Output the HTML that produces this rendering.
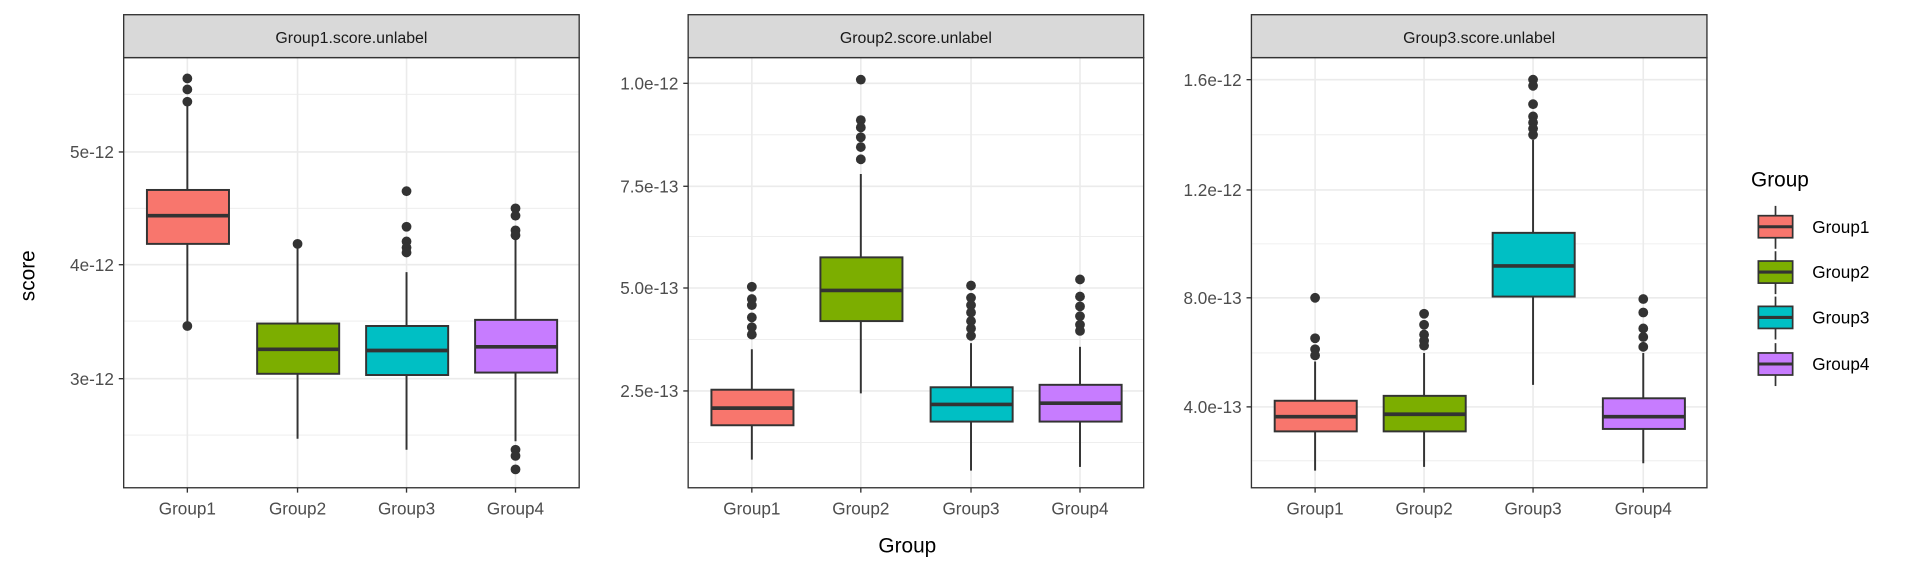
<!DOCTYPE html>
<html><head><meta charset="utf-8"><style>html,body{margin:0;padding:0;background:#fff}svg{display:block}</style></head>
<body>
<svg width="1920" height="576" viewBox="0 0 1568 470" preserveAspectRatio="none" xmlns="http://www.w3.org/2000/svg" font-family="Liberation Sans, sans-serif">
<rect width="1568" height="470" fill="#fff"/>
<g id="p1">
<g stroke="#EBEBEB" stroke-width="0.7"><line x1="101" x2="473" y1="77" y2="77"/><line x1="101" x2="473" y1="170" y2="170"/><line x1="101" x2="473" y1="262" y2="262"/><line x1="101" x2="473" y1="355" y2="355"/></g>
<g stroke="#EBEBEB" stroke-width="1.3"><line x1="101" x2="473" y1="124" y2="124"/><line x1="101" x2="473" y1="216" y2="216"/><line x1="101" x2="473" y1="309" y2="309"/>
<line x1="153" x2="153" y1="47" y2="398"/><line x1="243" x2="243" y1="47" y2="398"/><line x1="332" x2="332" y1="47" y2="398"/><line x1="421" x2="421" y1="47" y2="398"/></g>
</g>
<g stroke="#EBEBEB" stroke-width="0.7"><line x1="562" x2="934" y1="110" y2="110"/><line x1="562" x2="934" y1="193" y2="193"/><line x1="562" x2="934" y1="277" y2="277"/><line x1="562" x2="934" y1="361" y2="361"/>
<line x1="1022" x2="1394" y1="21" y2="21"/><line x1="1022" x2="1394" y1="110" y2="110"/><line x1="1022" x2="1394" y1="199" y2="199"/><line x1="1022" x2="1394" y1="288" y2="288"/><line x1="1022" x2="1394" y1="376" y2="376"/></g>
<g stroke="#EBEBEB" stroke-width="1.3"><line x1="562" x2="934" y1="68" y2="68"/><line x1="562" x2="934" y1="152" y2="152"/><line x1="562" x2="934" y1="235" y2="235"/><line x1="562" x2="934" y1="319" y2="319"/>
<line x1="614" x2="614" y1="47" y2="398"/><line x1="703" x2="703" y1="47" y2="398"/><line x1="793" x2="793" y1="47" y2="398"/><line x1="882" x2="882" y1="47" y2="398"/>
<line x1="1022" x2="1394" y1="65" y2="65"/><line x1="1022" x2="1394" y1="155" y2="155"/><line x1="1022" x2="1394" y1="243" y2="243"/><line x1="1022" x2="1394" y1="332" y2="332"/>
<line x1="1074" x2="1074" y1="47" y2="398"/><line x1="1163" x2="1163" y1="47" y2="398"/><line x1="1252" x2="1252" y1="47" y2="398"/><line x1="1342" x2="1342" y1="47" y2="398"/></g>

<g stroke="#333" stroke-width="1.6" fill="#333">
<!-- panel1 -->
<line x1="153" x2="153" y1="85" y2="266"/><rect x="120" y="155" width="67" height="44" fill="#F8766D"/><line x1="120" x2="187" y1="176" y2="176" stroke-width="3"/>
<circle cx="153" cy="64" r="4" stroke="none"/><circle cx="153" cy="73" r="4" stroke="none"/><circle cx="153" cy="83" r="4" stroke="none"/><circle cx="153" cy="266" r="4" stroke="none"/>
<line x1="243" x2="243" y1="202" y2="358"/><rect x="210" y="264" width="67" height="41" fill="#7CAE00"/><line x1="210" x2="277" y1="285" y2="285" stroke-width="3"/><circle cx="243" cy="199" r="4" stroke="none"/>
<line x1="332" x2="332" y1="222" y2="367"/><rect x="299" y="266" width="67" height="40" fill="#00BFC4"/><line x1="299" x2="366" y1="286" y2="286" stroke-width="3"/>
<circle cx="332" cy="156" r="4" stroke="none"/><circle cx="332" cy="185" r="4" stroke="none"/><circle cx="332" cy="197" r="4" stroke="none"/><circle cx="332" cy="202" r="4" stroke="none"/><circle cx="332" cy="206" r="4" stroke="none"/>
<line x1="421" x2="421" y1="192" y2="360"/><rect x="388" y="261" width="67" height="43" fill="#C77CFF"/><line x1="388" x2="455" y1="283" y2="283" stroke-width="3"/>
<circle cx="421" cy="170" r="4" stroke="none"/><circle cx="421" cy="176" r="4" stroke="none"/><circle cx="421" cy="188" r="4" stroke="none"/><circle cx="421" cy="192" r="4" stroke="none"/><circle cx="421" cy="367" r="4" stroke="none"/><circle cx="421" cy="372" r="4" stroke="none"/><circle cx="421" cy="383" r="4" stroke="none"/>
<!-- panel2 -->
<line x1="614" x2="614" y1="285" y2="375"/><rect x="581" y="318" width="67" height="29" fill="#F8766D"/><line x1="581" x2="648" y1="333" y2="333" stroke-width="3"/>
<circle cx="614" cy="234" r="4" stroke="none"/><circle cx="614" cy="244" r="4" stroke="none"/><circle cx="614" cy="249" r="4" stroke="none"/><circle cx="614" cy="259" r="4" stroke="none"/><circle cx="614" cy="267" r="4" stroke="none"/><circle cx="614" cy="273" r="4" stroke="none"/>
<line x1="703" x2="703" y1="142" y2="321"/><rect x="670" y="210" width="67" height="52" fill="#7CAE00"/><line x1="670" x2="737" y1="237" y2="237" stroke-width="3"/>
<circle cx="703" cy="65" r="4" stroke="none"/><circle cx="703" cy="98" r="4" stroke="none"/><circle cx="703" cy="104" r="4" stroke="none"/><circle cx="703" cy="112" r="4" stroke="none"/><circle cx="703" cy="120" r="4" stroke="none"/><circle cx="703" cy="130" r="4" stroke="none"/>
<line x1="793" x2="793" y1="280" y2="384"/><rect x="760" y="316" width="67" height="28" fill="#00BFC4"/><line x1="760" x2="827" y1="330" y2="330" stroke-width="3"/>
<circle cx="793" cy="233" r="4" stroke="none"/><circle cx="793" cy="243" r="4" stroke="none"/><circle cx="793" cy="249" r="4" stroke="none"/><circle cx="793" cy="255" r="4" stroke="none"/><circle cx="793" cy="262" r="4" stroke="none"/><circle cx="793" cy="268" r="4" stroke="none"/><circle cx="793" cy="274" r="4" stroke="none"/>
<line x1="882" x2="882" y1="283" y2="381"/><rect x="849" y="314" width="67" height="30" fill="#C77CFF"/><line x1="849" x2="916" y1="329" y2="329" stroke-width="3"/>
<circle cx="882" cy="228" r="4" stroke="none"/><circle cx="882" cy="242" r="4" stroke="none"/><circle cx="882" cy="250" r="4" stroke="none"/><circle cx="882" cy="258" r="4" stroke="none"/><circle cx="882" cy="265" r="4" stroke="none"/><circle cx="882" cy="270" r="4" stroke="none"/>
<!-- panel3 -->
<line x1="1074" x2="1074" y1="295" y2="384"/><rect x="1041" y="327" width="67" height="25" fill="#F8766D"/><line x1="1041" x2="1108" y1="340" y2="340" stroke-width="3"/>
<circle cx="1074" cy="243" r="4" stroke="none"/><circle cx="1074" cy="276" r="4" stroke="none"/><circle cx="1074" cy="285" r="4" stroke="none"/><circle cx="1074" cy="290" r="4" stroke="none"/>
<line x1="1163" x2="1163" y1="288" y2="381"/><rect x="1130" y="323" width="67" height="29" fill="#7CAE00"/><line x1="1130" x2="1197" y1="338" y2="338" stroke-width="3"/>
<circle cx="1163" cy="256" r="4" stroke="none"/><circle cx="1163" cy="265" r="4" stroke="none"/><circle cx="1163" cy="273" r="4" stroke="none"/><circle cx="1163" cy="278" r="4" stroke="none"/><circle cx="1163" cy="282" r="4" stroke="none"/>
<line x1="1252" x2="1252" y1="114" y2="314"/><rect x="1219" y="190" width="67" height="52" fill="#00BFC4"/><line x1="1219" x2="1286" y1="217" y2="217" stroke-width="3"/>
<circle cx="1252" cy="65" r="4" stroke="none"/><circle cx="1252" cy="70" r="4" stroke="none"/><circle cx="1252" cy="85" r="4" stroke="none"/><circle cx="1252" cy="95" r="4" stroke="none"/><circle cx="1252" cy="100" r="4" stroke="none"/><circle cx="1252" cy="105" r="4" stroke="none"/><circle cx="1252" cy="110" r="4" stroke="none"/>
<line x1="1342" x2="1342" y1="288" y2="378"/><rect x="1309" y="325" width="67" height="25" fill="#C77CFF"/><line x1="1309" x2="1376" y1="340" y2="340" stroke-width="3"/>
<circle cx="1342" cy="244" r="4" stroke="none"/><circle cx="1342" cy="255" r="4" stroke="none"/><circle cx="1342" cy="268" r="4" stroke="none"/><circle cx="1342" cy="275" r="4" stroke="none"/><circle cx="1342" cy="283" r="4" stroke="none"/>
</g>

<g fill="none" stroke="#333" stroke-width="1.1">
<rect x="101" y="47" width="372" height="351"/><rect x="562" y="47" width="372" height="351"/><rect x="1022" y="47" width="372" height="351"/>
<rect x="101" y="12" width="372" height="35" fill="#D9D9D9"/><rect x="562" y="12" width="372" height="35" fill="#D9D9D9"/><rect x="1022" y="12" width="372" height="35" fill="#D9D9D9"/>
</g>
<g font-size="13" fill="#1A1A1A" text-anchor="middle"><text x="287" y="35">Group1.score.unlabel</text><text x="748" y="35">Group2.score.unlabel</text><text x="1208" y="35">Group3.score.unlabel</text></g>

<g stroke="#333" stroke-width="1.1">
<line x1="97" x2="101" y1="124" y2="124"/><line x1="97" x2="101" y1="216" y2="216"/><line x1="97" x2="101" y1="309" y2="309"/>
<line x1="558" x2="562" y1="68" y2="68"/><line x1="558" x2="562" y1="152" y2="152"/><line x1="558" x2="562" y1="235" y2="235"/><line x1="558" x2="562" y1="319" y2="319"/>
<line x1="1018" x2="1022" y1="65" y2="65"/><line x1="1018" x2="1022" y1="155" y2="155"/><line x1="1018" x2="1022" y1="243" y2="243"/><line x1="1018" x2="1022" y1="332" y2="332"/>
<path d="M153 398v4M243 398v4M332 398v4M421 398v4M614 398v4M703 398v4M793 398v4M882 398v4M1074 398v4M1163 398v4M1252 398v4M1342 398v4"/>
</g>
<g font-size="14" fill="#4D4D4D" text-anchor="end">
<text x="93" y="129">5e-12</text><text x="93" y="221">4e-12</text><text x="93" y="314">3e-12</text>
<text x="554" y="73">1.0e-12</text><text x="554" y="157">7.5e-13</text><text x="554" y="240">5.0e-13</text><text x="554" y="324">2.5e-13</text>
<text x="1014" y="70">1.6e-12</text><text x="1014" y="160">1.2e-12</text><text x="1014" y="248">8.0e-13</text><text x="1014" y="337">4.0e-13</text>
</g>
<g font-size="14" fill="#4D4D4D" text-anchor="middle">
<text x="153" y="420">Group1</text><text x="243" y="420">Group2</text><text x="332" y="420">Group3</text><text x="421" y="420">Group4</text>
<text x="614" y="420">Group1</text><text x="703" y="420">Group2</text><text x="793" y="420">Group3</text><text x="882" y="420">Group4</text>
<text x="1074" y="420">Group1</text><text x="1163" y="420">Group2</text><text x="1252" y="420">Group3</text><text x="1342" y="420">Group4</text>
</g>
<text x="741" y="451" font-size="17" text-anchor="middle" fill="#000">Group</text>
<text transform="translate(28,225) rotate(-90)" font-size="17" text-anchor="middle" fill="#000">score</text>

<text x="1430" y="152" font-size="17" fill="#000">Group</text>
<g stroke="#333" stroke-width="1.4">
<line x1="1450" x2="1450" y1="168" y2="203"/><rect x="1436" y="176" width="28" height="18" fill="#F8766D"/><line x1="1436" x2="1464" y1="185" y2="185" stroke-width="2.5"/>
<line x1="1450" x2="1450" y1="205" y2="240"/><rect x="1436" y="213" width="28" height="18" fill="#7CAE00"/><line x1="1436" x2="1464" y1="222" y2="222" stroke-width="2.5"/>
<line x1="1450" x2="1450" y1="242" y2="277"/><rect x="1436" y="250" width="28" height="18" fill="#00BFC4"/><line x1="1436" x2="1464" y1="259" y2="259" stroke-width="2.5"/>
<line x1="1450" x2="1450" y1="280" y2="315"/><rect x="1436" y="288" width="28" height="18" fill="#C77CFF"/><line x1="1436" x2="1464" y1="297" y2="297" stroke-width="2.5"/>
</g>
<g font-size="14" fill="#000"><text x="1480" y="190">Group1</text><text x="1480" y="227">Group2</text><text x="1480" y="264">Group3</text><text x="1480" y="302">Group4</text></g>
</svg>
</body></html>
